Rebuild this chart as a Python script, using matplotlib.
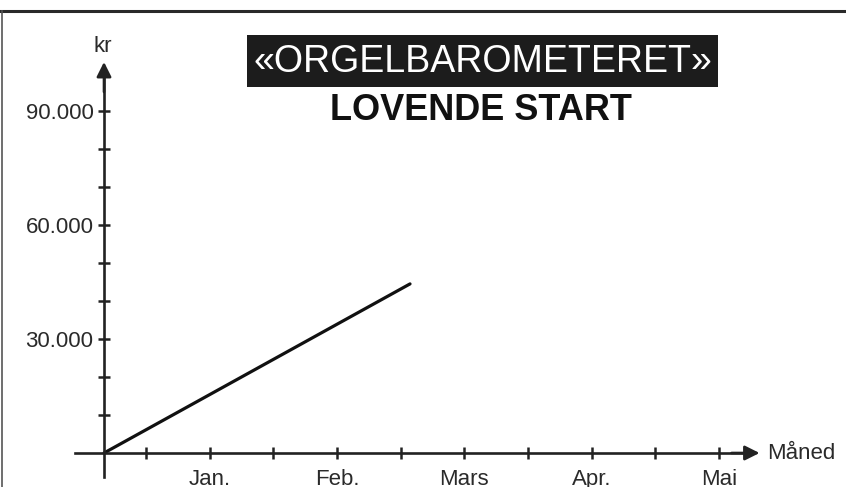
import matplotlib
matplotlib.use("Agg")
import matplotlib.pyplot as plt
from matplotlib.patches import Rectangle
from matplotlib.lines import Line2D
from matplotlib.ticker import FixedLocator, FuncFormatter

# ---- data ----
months = ["Jan.", "Feb.", "Mars", "Apr.", "Mai"]
month_pos = [1, 2, 3, 4, 5]
half_ticks = [0.5, 1.5, 2.5, 3.5, 4.5]
y_major = [30000, 60000, 90000]
y_minor = [10000, 20000, 40000, 50000, 70000, 80000]
line_x = [0.17, 2.574]
line_y = [0, 44500]

title1 = "«ORGELBAROMETERET»"
title2 = "LOVENDE START"
ylab = "kr"
xlab = "Måned"

plt.rcParams['font.family'] = ['Liberation Sans', 'DejaVu Sans']
ink = "#222222"

fig = plt.figure(figsize=(8.46, 4.87), dpi=100)
ax = fig.add_axes([0, 0, 1, 1])
ax.set_xlim(-0.647, 5.999)
ax.set_ylim(-8947, 119210)
ax.patch.set_alpha(0)

# axes
for s in ['top', 'right']:
    ax.spines[s].set_visible(False)
ax.spines['left'].set_position(('data', line_x[0]))
ax.spines['bottom'].set_position(('data', 0))
ax.spines['left'].set_bounds(-6300, 100000)
ax.spines['bottom'].set_bounds(-0.058, 5.2)
for s in ['left', 'bottom']:
    ax.spines[s].set_linewidth(1.9)
    ax.spines[s].set_color(ink)

ax.yaxis.set_major_locator(FixedLocator(y_major))
ax.yaxis.set_minor_locator(FixedLocator(y_minor))
ax.yaxis.set_major_formatter(FuncFormatter(lambda v, p: f"{int(v):,}".replace(",", ".")))
ax.xaxis.set_major_locator(FixedLocator(month_pos))
ax.xaxis.set_minor_locator(FixedLocator(half_ticks))
ax.set_xticklabels(months)

ax.tick_params(axis='both', which='both', direction='inout', length=9, width=1.8,
               color=ink, labelcolor="#2a2a2a", labelsize=16)
ax.tick_params(axis='y', which='both', pad=3)
ax.tick_params(axis='x', which='both', pad=7)

# arrow heads
ax.annotate('', xy=(line_x[0], 102900), xytext=(line_x[0], 95000),
            arrowprops=dict(arrowstyle='-|>', mutation_scale=22, lw=1.9, color=ink,
                            shrinkA=0, shrinkB=0))
ax.annotate('', xy=(5.32, 0), xytext=(5.1, 0),
            arrowprops=dict(arrowstyle='-|>', mutation_scale=22, lw=1.9, color=ink,
                            shrinkA=0, shrinkB=0))

# data line
ax.plot(line_x, line_y, color="#111111", lw=2.3, solid_capstyle='round')

# axis labels
ax.text(line_x[0] - 0.01, 107100, ylab, ha='center', va='center', fontsize=16, color="#2a2a2a")
ax.text(5.38, 0, xlab, ha='left', va='center', fontsize=16, color="#2a2a2a")

# frame lines
fig.add_artist(Line2D([0, 1], [1 - 11 / 487, 1 - 11 / 487], transform=fig.transFigure,
                      color="#2a2a2a", lw=2.2))
fig.add_artist(Line2D([2 / 846, 2 / 846], [0, 1 - 11 / 487], transform=fig.transFigure,
                      color="#555555", lw=1.2))

# title box
fig.add_artist(Rectangle((247 / 846, 1 - 87 / 487), 471 / 846, 52 / 487,
                         transform=fig.transFigure, facecolor="#1c1c1c", edgecolor='none'))
fig.text(483 / 846, 1 - 62 / 487, title1, ha='center', va='center', color='white',
         fontsize=27)
fig.text(481 / 846, 1 - 111 / 487, title2, ha='center', va='center', color="#111111",
         fontsize=26, fontweight='bold')

fig.savefig("out.png", dpi=100)
